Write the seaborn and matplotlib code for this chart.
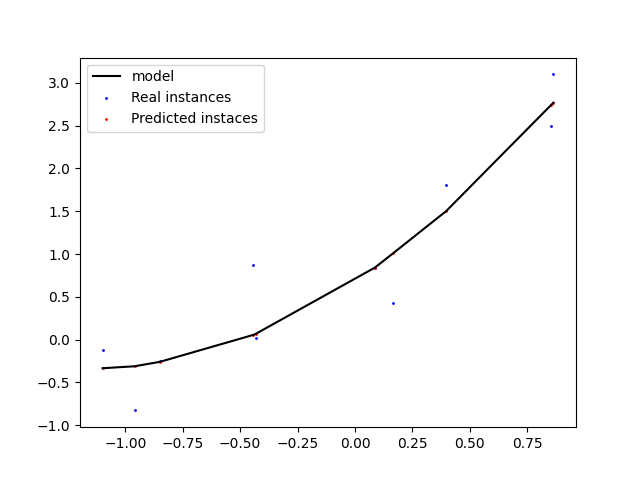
import numpy as np
import pandas as pd
import matplotlib
matplotlib.use('Agg')
import matplotlib.pyplot as plt
import seaborn as sns

# values
x_vals = [-1.099, -0.959, -0.849, -0.442, -0.432, 0.087, 0.166, 0.397, 0.853, 0.864]
y_real = [-0.124, -0.828, -0.249, 0.874, 0.017, 0.842, 0.427, 1.811, 2.50, 3.10]
y_pred = [-0.335, -0.312, -0.260, 0.055, 0.067, 0.842, 1.009, 1.502, 2.74, 2.77]


def main():
    plt.rcParams['font.family'] = 'DejaVu Sans'
    df = pd.DataFrame({'x': x_vals, 'real': y_real, 'pred': y_pred})

    fig, ax = plt.subplots(figsize=(6.4, 4.8), dpi=100)

    sns.lineplot(data=df, x='x', y='pred', color='black', linewidth=1.5,
                 label='model', ax=ax, sort=True)
    sns.scatterplot(data=df, x='x', y='real', color='blue', s=1,
                    edgecolor='blue', linewidth=1, label='Real instances', ax=ax)
    sns.scatterplot(data=df, x='x', y='pred', color='red', s=1,
                    edgecolor='red', linewidth=1, label='Predicted instaces', ax=ax)

    ax.set_xlabel('')
    ax.set_ylabel('')
    ax.legend(loc='upper left')

    fig.savefig('out.png', dpi=100)


if __name__ == "__main__":
    main()
